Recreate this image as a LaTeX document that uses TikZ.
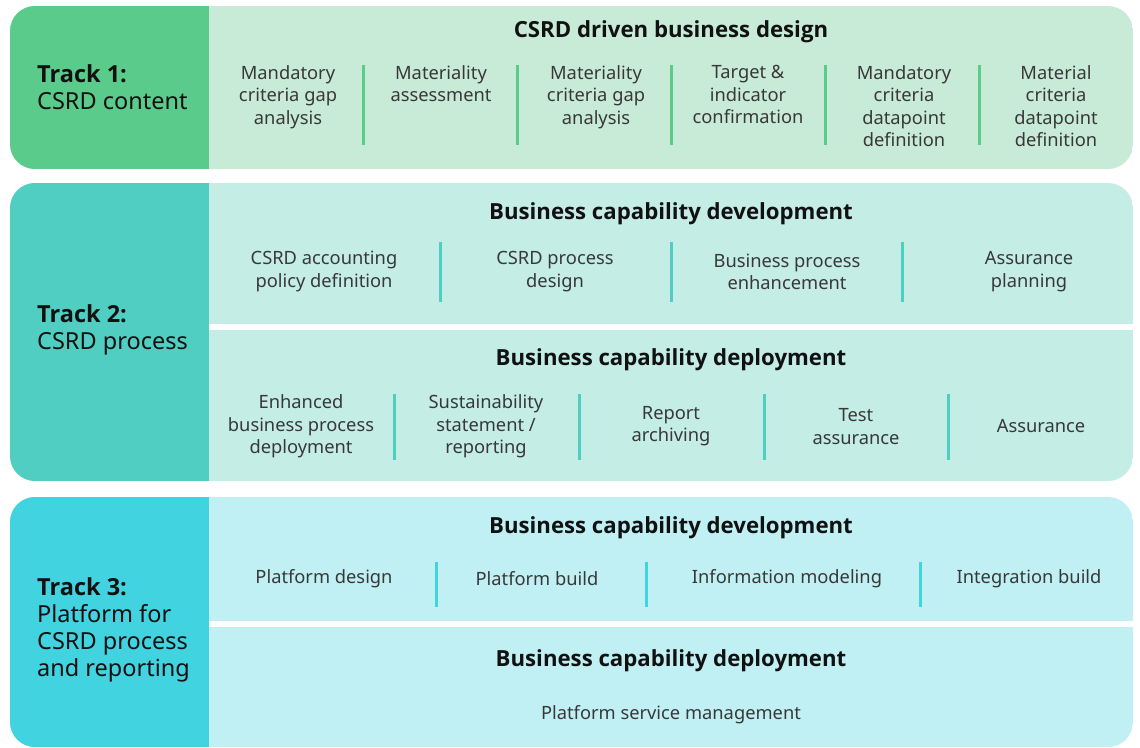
\documentclass[tikz,border=0pt]{standalone}
\usepackage{fontspec}
\setmainfont{Noto Sans}
\newfontfamily\headfont{Open Sans}
\definecolor{oneDark}{HTML}{5BCB8B}
\definecolor{oneLight}{HTML}{C8EBD8}
\definecolor{twoDark}{HTML}{50CEC1}
\definecolor{twoLight}{HTML}{C4EDE5}
\definecolor{threeDark}{HTML}{41D3E0}
\definecolor{threeLight}{HTML}{C0F0F4}
\definecolor{itemgray}{HTML}{383838}
\definecolor{headblack}{HTML}{111111}
\newcommand{\trackname}[1]{{\headfont\bfseries #1}}
\tikzset{
  item/.style={font=\fontsize{18.3}{22.3}\selectfont, text=itemgray, align=center, inner sep=0pt},
  head/.style={font=\fontsize{22.2}{25}\selectfont\headfont\bfseries, text=headblack, inner sep=0pt},
  tracklabel/.style={font=\fontsize{23.5}{27}\selectfont, text=headblack, align=left, inner sep=0pt, anchor=west},
  sepline/.style={line width=3pt},
}
\begin{document}
\begin{tikzpicture}[x=1pt,y=-1pt]
\useasboundingbox (0,0) rectangle (1140,747);

% ---------- Track 1 panel ----------
\begin{scope}
  \clip[rounded corners=25pt] (10,6) rectangle (1133,169);
  \fill[oneLight] (10,6) rectangle (1133,169);
  \fill[oneDark] (10,6) rectangle (209,169);
\end{scope}

% ---------- Track 2 panel ----------
\begin{scope}
  \clip[rounded corners=25pt] (10,183) rectangle (1133,481);
  \fill[twoLight] (10,183) rectangle (1133,481);
  \fill[twoDark] (10,183) rectangle (209,481);
  \fill[white] (209,324) rectangle (1133,330);
\end{scope}

% ---------- Track 3 panel ----------
\begin{scope}
  \clip[rounded corners=25pt] (10,497) rectangle (1133,747);
  \fill[threeLight] (10,497) rectangle (1133,747);
  \fill[threeDark] (10,497) rectangle (209,747);
  \fill[white] (209,621) rectangle (1133,627);
\end{scope}

% ---------- Track labels ----------
\node[tracklabel] (t1) at (37,87.5) {\trackname{Track 1:}\\CSRD content};
\node[tracklabel] (t2) at (37,330) {\trackname{Track 2:}\\CSRD process};
\node[tracklabel] (t3) at (37,629.5) {\trackname{Track 3:}\\Platform for\\CSRD process\\and reporting};

% ---------- Track 1 content ----------
\node[head] (h1) at (671,31.5) {CSRD driven business design};
\foreach \x/\n/\t in {
  288/a1/{Mandatory\\criteria gap\\analysis},
  441/a2/{Materiality\\assessment},
  596/a3/{Materiality\\criteria gap\\analysis},
  748/a4/{Target \&\\indicator\\confirmation},
  904/a5/{Mandatory\\criteria\\datapoint\\definition},
  1056/a6/{Material\\criteria\\datapoint\\definition}}
  \node[item, anchor=north] (\n) at (\x,65.5) {\t};
\foreach \x in {363,517,671,825,979}
  \draw[sepline, oneDark] (\x,65) -- (\x,145);

% ---------- Track 2 content ----------
\node[head] (h2a) at (671,213.5) {Business capability development};
\foreach \x/\n/\t in {
  324/b1/{CSRD accounting\\policy definition},
  555/b2/{CSRD process\\design},
  787/b3/{Business process\\enhancement},
  1029/b4/{Assurance\\planning}}
  \node[item] (\n) at (\x,271.5) {\t};
\foreach \x in {440,671,902}
  \draw[sepline, twoDark] (\x,242) -- (\x,302);

\node[head] (h2b) at (671,359.5) {Business capability deployment};
\foreach \x/\n/\t in {
  301/c1/{Enhanced\\business process\\deployment},
  486/c2/{Sustainability\\statement /\\reporting},
  671/c3/{Report\\archiving},
  856/c4/{Test\\assurance},
  1041/c5/{Assurance}}
  \node[item] (\n) at (\x,426.5) {\t};
\foreach \x in {394,579,764,948}
  \draw[sepline, twoDark] (\x,394) -- (\x,460);

% ---------- Track 3 content ----------
\node[head] (h3a) at (671,527.5) {Business capability development};
\foreach \x/\n/\t in {
  324/d1/{Platform design},
  537/d2/{Platform build},
  787/d3/{Information modeling},
  1029/d4/{Integration build}}
  \node[item] (\n) at (\x,579) {\t};
\foreach \x in {436,646,920}
  \draw[sepline, threeDark] (\x,562) -- (\x,607);

\node[head] (h3b) at (671,660.5) {Business capability deployment};
\node[item] (e1) at (671,715) {Platform service management};
\end{tikzpicture}
\end{document}
